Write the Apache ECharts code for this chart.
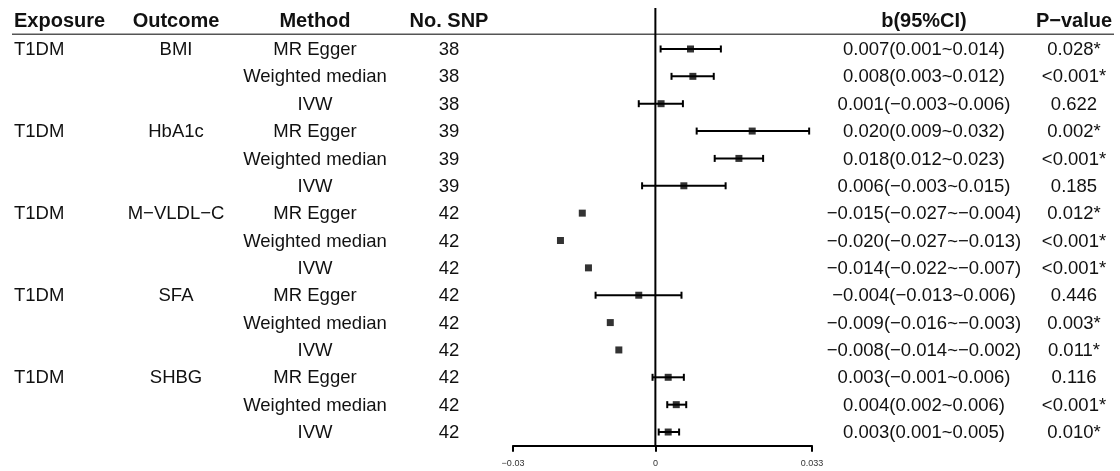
<!DOCTYPE html>
<html>
<head>
<meta charset="utf-8">
<script src="https://cdn.jsdelivr.net/npm/echarts@6/dist/echarts.min.js"></script>
<style>
html,body{margin:0;padding:0;background:#fff;}
#main{width:1120px;height:471px;}
</style>
</head>
<body>
<div id="main"></div>
<script>
// table columns
var exposures = ['T1DM','','','T1DM','','','T1DM','','','T1DM','','','T1DM','',''];
var outcomes = ['BMI','','','HbA1c','','','M\u2212VLDL\u2212C','','','SFA','','','SHBG','',''];
var methods = ['MR Egger','Weighted median','IVW','MR Egger','Weighted median','IVW','MR Egger','Weighted median','IVW',
	'MR Egger','Weighted median','IVW','MR Egger','Weighted median','IVW'];
var snps = [38,38,38,39,39,39,42,42,42,42,42,42,42,42,42];
var ciText = ['0.007(0.001~0.014)','0.008(0.003~0.012)','0.001(\u22120.003~0.006)',
	'0.020(0.009~0.032)','0.018(0.012~0.023)','0.006(\u22120.003~0.015)',
	'\u22120.015(\u22120.027~\u22120.004)','\u22120.020(\u22120.027~\u22120.013)','\u22120.014(\u22120.022~\u22120.007)',
	'\u22120.004(\u22120.013~0.006)','\u22120.009(\u22120.016~\u22120.003)','\u22120.008(\u22120.014~\u22120.002)',
	'0.003(\u22120.001~0.006)','0.004(0.002~0.006)','0.003(0.001~0.005)'];
var pText = ['0.028*','<0.001*','0.622','0.002*','<0.001*','0.185','0.012*','<0.001*','<0.001*',
	'0.446','0.003*','0.011*','0.116','<0.001*','0.010*'];

// plotted estimates
var beta = [0.0074,0.0079,0.0012,0.0204,0.0176,0.0060,-0.0154,-0.0200,-0.0141,-0.0035,-0.0095,-0.0077,0.0027,0.0044,0.0027];
var ciLow = [0.0011,0.0034,-0.0035,0.0087,0.0125,-0.0028,null,null,null,-0.0126,null,null,-0.0006,0.0025,0.0007];
var ciHigh = [0.0138,0.0123,0.0058,0.0324,0.0227,0.0148,null,null,null,0.0055,null,null,0.0060,0.0065,0.0050];
var axisTicks = [-0.03,0,0.033];

var colX = [14,176,315,449,924,1074];
var colAlign = ['left','center','center','center','center','center'];
var headers = ['Exposure','Outcome','Method','No. SNP','b(95%CI)','P\u2212value'];

var FONT = '"Liberation Sans", Arial, Helvetica, sans-serif';
var rowIdx = methods.map(function(m,i){return String(i);});

function txt(s,x,y,align,font){
	return {type:'text',x:x,y:y,style:{text:s,fill:'#111',font:font,
		align:align,verticalAlign:'middle',textAlign:align,textVerticalAlign:'middle'}};
}

var chart = echarts.init(document.getElementById('main'));

var ciData = [];
for(var i=0;i<beta.length;i++){
	if(ciLow[i]!==null) ciData.push([ciLow[i],ciHigh[i],i]);
}

chart.setOption({
	animation:false,
	backgroundColor:'#fff',
	grid:{left:513,right:308,top:35.3,bottom:25.3,outerBoundsMode:'none'},
	xAxis:{
		type:'value',min:-0.03,max:0.033,
		splitLine:{show:false},
		axisLine:{show:true,onZero:false,lineStyle:{color:'#000',width:2}},
		axisTick:{show:true,customValues:axisTicks,length:6,lineStyle:{color:'#000',width:2}},
		axisLabel:{customValues:axisTicks,fontSize:9,color:'#333',margin:13,fontFamily:FONT,
			formatter:function(v){return v===0?'0':String(v).replace('-','\u2212');}}
	},
	yAxis:{type:'category',data:rowIdx,inverse:true,show:false},
	graphic:[
		{type:'line',shape:{x1:12,y1:34.3,x2:1114,y2:34.3},style:{stroke:'#555',lineWidth:1.5}}
	].concat(headers.map(function(h,k){
		return txt(h,colX[k],21,colAlign[k],'bold 20px '+FONT);
	})),
	series:[
		{
			// table text per row
			type:'custom',clip:false,silent:true,
			data:rowIdx.map(function(r,i){return [0,i];}),
			renderItem:function(params,api){
				var i=params.dataIndex;
				var y=api.coord([0,i])[1]+1;
				var f='18.5px '+FONT;
				var cells=[exposures[i],outcomes[i],methods[i],String(snps[i]),ciText[i],pText[i]];
				return {type:'group',children:cells.map(function(c,k){
					return txt(c,colX[k],y,colAlign[k],f);
				})};
			}
		},
		{
			// vertical reference line at zero
			type:'custom',clip:false,silent:true,
			data:[[0,0]],
			renderItem:function(params,api){
				var p=api.coord([0,0]);
				var band=api.size([0,1])[1];
				var last=api.coord([0,beta.length-1]);
				return {type:'line',shape:{x1:p[0],y1:p[1]-1.5*band,x2:p[0],y2:last[1]+0.5*band},
					style:{stroke:'#000',lineWidth:2}};
			}
		},
		{
			// confidence interval whiskers
			type:'custom',clip:false,silent:true,
			data:ciData,
			renderItem:function(params,api){
				var a=api.coord([api.value(0),api.value(2)]);
				var b=api.coord([api.value(1),api.value(2)]);
				var h=3.5;
				return {type:'group',children:[
					{type:'line',shape:{x1:a[0],y1:a[1],x2:b[0],y2:b[1]},style:{stroke:'#000',lineWidth:2}},
					{type:'line',shape:{x1:a[0],y1:a[1]-h,x2:a[0],y2:a[1]+h},style:{stroke:'#000',lineWidth:2}},
					{type:'line',shape:{x1:b[0],y1:b[1]-h,x2:b[0],y2:b[1]+h},style:{stroke:'#000',lineWidth:2}}
				]};
			}
		},
		{
			type:'scatter',symbol:'rect',symbolSize:7,z:5,silent:true,
			itemStyle:{color:'#000'},
			data:beta.map(function(b,i){return [b,i];})
		}
	]
});
</script>
</body>
</html>
